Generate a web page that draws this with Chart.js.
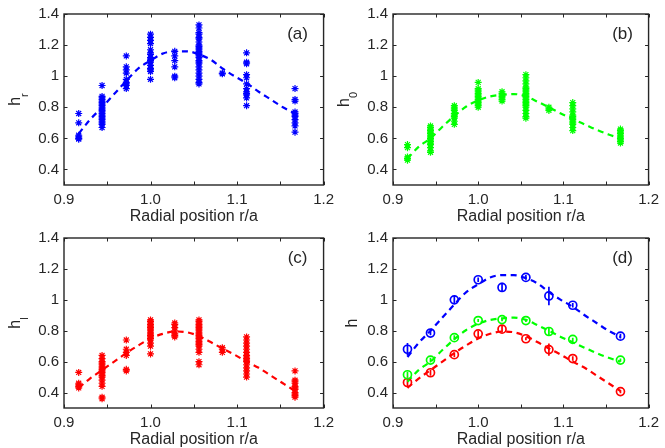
<!DOCTYPE html>
<html>
<head>
<meta charset="utf-8">
<script src="https://cdn.jsdelivr.net/npm/chart.js@4.4.1/dist/chart.umd.min.js"></script>
<style>
  html, body { margin: 0; padding: 0; background: #fff; }
  body { position: relative; width: 665px; height: 448px; overflow: hidden; }
  canvas { position: absolute; }
</style>
</head>
<body>
<canvas id="pa" width="340" height="232" style="left:0;top:0"></canvas>
<canvas id="pb" width="336" height="232" style="left:329px;top:0"></canvas>
<canvas id="pc" width="340" height="232" style="left:0;top:224px"></canvas>
<canvas id="pd" width="336" height="232" style="left:329px;top:224px"></canvas>
<script>
// Radial positions of the measurement channels (r/a)
const radii = [0.917, 0.944, 0.972, 1.000, 1.028, 1.056, 1.083, 1.111, 1.167];

// Individual samples per radial position
const hrSamples = [
  [0.76, 0.70, 0.62, 0.61, 0.60, 0.595],
  [0.94, 0.87, 0.86, 0.85, 0.84, 0.83, 0.82, 0.81, 0.80, 0.79, 0.78, 0.77, 0.76, 0.75, 0.74, 0.73, 0.72, 0.71, 0.70, 0.69, 0.67],
  [1.13, 1.06, 1.04, 1.02, 0.98, 0.96, 0.95, 0.94, 0.92],
  [1.27, 1.25, 1.23, 1.21, 1.17, 1.15, 1.14, 1.12, 1.11, 1.10, 1.09, 1.07, 1.05, 1.04, 1.03, 0.98],
  [1.16, 1.13, 1.10, 1.06, 1.00, 0.99],
  [1.33, 1.31, 1.28, 1.27, 1.25, 1.24, 1.22, 1.20, 1.19, 1.18, 1.17, 1.16, 1.15, 1.14, 1.13, 1.12, 1.10, 1.09, 1.08, 1.06, 1.04, 1.02, 1.00, 0.98, 0.96, 0.95],
  [1.02, 1.015],
  [1.15, 1.09, 1.08, 1.01, 0.99, 0.95, 0.92, 0.90, 0.89, 0.88, 0.86, 0.81],
  [0.92, 0.85, 0.84, 0.77, 0.76, 0.75, 0.74, 0.72, 0.70, 0.68, 0.64]
];
const h0Samples = [
  [0.56, 0.54, 0.48, 0.47, 0.46],
  [0.68, 0.67, 0.66, 0.65, 0.64, 0.63, 0.62, 0.61, 0.60, 0.59, 0.58, 0.57, 0.56, 0.54, 0.52, 0.51],
  [0.81, 0.80, 0.79, 0.78, 0.76, 0.75, 0.74, 0.73, 0.71, 0.69],
  [0.96, 0.92, 0.91, 0.90, 0.89, 0.88, 0.87, 0.86, 0.85, 0.84, 0.83, 0.82, 0.81, 0.80],
  [0.90, 0.89, 0.88, 0.87, 0.86, 0.85, 0.84],
  [1.01, 0.99, 0.97, 0.95, 0.93, 0.92, 0.91, 0.90, 0.89, 0.88, 0.87, 0.86, 0.85, 0.84, 0.83, 0.82, 0.81, 0.80, 0.78, 0.76, 0.74, 0.73],
  [0.80, 0.79, 0.78],
  [0.83, 0.81, 0.79, 0.77, 0.75, 0.74, 0.73, 0.72, 0.71, 0.70, 0.69, 0.67, 0.65],
  [0.66, 0.65, 0.64, 0.63, 0.62, 0.61, 0.60, 0.59, 0.58, 0.57]
];
const hlSamples = [
  [0.53, 0.46, 0.45, 0.44, 0.43],
  [0.64, 0.62, 0.60, 0.59, 0.58, 0.57, 0.56, 0.55, 0.54, 0.53, 0.52, 0.51, 0.50, 0.48, 0.46, 0.44, 0.37, 0.36],
  [0.74, 0.68, 0.66, 0.64, 0.55, 0.54],
  [0.87, 0.86, 0.85, 0.84, 0.83, 0.82, 0.81, 0.80, 0.79, 0.78, 0.77, 0.76, 0.75, 0.74, 0.72, 0.70, 0.65],
  [0.85, 0.84, 0.82, 0.80, 0.78, 0.77, 0.76],
  [0.87, 0.86, 0.85, 0.84, 0.83, 0.82, 0.81, 0.80, 0.79, 0.78, 0.77, 0.76, 0.75, 0.74, 0.73, 0.72, 0.71, 0.70, 0.68, 0.66, 0.60, 0.58],
  [0.69, 0.68, 0.66],
  [0.76, 0.74, 0.72, 0.70, 0.68, 0.66, 0.64, 0.63, 0.62, 0.61, 0.60, 0.58, 0.56, 0.54, 0.52, 0.50],
  [0.54, 0.48, 0.47, 0.46, 0.44, 0.43, 0.42, 0.40, 0.39, 0.38, 0.37]
];

// Averages and their uncertainties per radial position
const hrMean = [0.68, 0.785, 1.00, 1.13, 1.08, 1.145, 1.025, 0.965, 0.765];
const hrErr  = [0.04, 0.015, 0.025, 0.015, 0.03, 0.015, 0.06, 0.015, 0.015];
const h0Mean = [0.515, 0.61, 0.755, 0.866, 0.872, 0.866, 0.795, 0.744, 0.61];
const h0Err  = [0.02, 0.015, 0.015, 0.01, 0.01, 0.01, 0.025, 0.01, 0.01];
const hlMean = [0.465, 0.528, 0.645, 0.78, 0.81, 0.748, 0.678, 0.62, 0.406];
const hlErr  = [0.03, 0.02, 0.015, 0.02, 0.02, 0.01, 0.04, 0.015, 0.01];

// Fitted profiles
const fitR  = [0.917, 0.930, 0.944, 0.958, 0.972, 0.986, 1.000, 1.014, 1.028, 1.042, 1.056, 1.070, 1.083, 1.097, 1.111, 1.125, 1.139, 1.153, 1.167];
const hrFit = [0.63, 0.72, 0.80, 0.885, 0.97, 1.05, 1.10, 1.145, 1.16, 1.16, 1.14, 1.105, 1.05, 1.00, 0.955, 0.90, 0.85, 0.80, 0.76];
const h0Fit = [0.47, 0.545, 0.60, 0.675, 0.745, 0.805, 0.845, 0.87, 0.88, 0.885, 0.87, 0.835, 0.80, 0.76, 0.725, 0.69, 0.655, 0.625, 0.60];
const hlFit = [0.43, 0.49, 0.545, 0.60, 0.655, 0.705, 0.75, 0.78, 0.795, 0.79, 0.765, 0.725, 0.685, 0.645, 0.60, 0.56, 0.51, 0.46, 0.41];

// Axis ticks
const xTicks = [0.9, 1.0, 1.1, 1.2];
const xTickLabels = ['0.9', '1.0', '1.1', '1.2'];
const xMinorTicks = [0.95, 1.05, 1.15];
const yTicks = [0.4, 0.6, 0.8, 1.0, 1.2, 1.4];
const yTickLabels = ['0.4', '0.6', '0.8', '1', '1.2', '1.4'];

const FONT = "'Liberation Sans', Arial, Helvetica, sans-serif";
const INK = '#262626';
const BLUE = '#0000ff', GREEN = '#00ff00', RED = '#ff0000';

function samplePoints(samples) {
  const pts = [];
  samples.forEach((col, i) => col.forEach(v => pts.push({ x: radii[i], y: v })));
  return pts;
}
function pairs(xs, ys) { return xs.map((x, i) => ({ x, y: ys[i] })); }

function starSet(samples, color) {
  return { data: samplePoints(samples), showLine: false, pointStyle: 'star', pointRadius: 3.5,
           borderColor: color, backgroundColor: color, pointBorderWidth: 1.2, order: 2 };
}
function fitSet(ys, color) {
  return { data: pairs(fitR, ys), showLine: true, pointRadius: 0, borderColor: color, borderWidth: 2.2,
           borderDash: [6, 4.5], cubicInterpolationMode: 'monotone', fill: false, order: 1 };
}
function meanSet(ys, color) {
  return { data: pairs(radii, ys), showLine: false, pointStyle: 'circle', pointRadius: 4,
           borderColor: color, backgroundColor: 'rgba(0,0,0,0)', pointBorderWidth: 1.7, order: 0 };
}

// Frame, inward tick marks, y label with subscript, panel letter and error bars
const decorPlugin = {
  id: 'decor',
  beforeDatasetsDraw(chart, args, opts) {
    if (!opts.errorBars) return;
    const ctx = chart.ctx, xs = chart.scales.x, ys = chart.scales.y;
    ctx.save();
    opts.errorBars.forEach(eb => {
      ctx.strokeStyle = eb.color;
      ctx.lineWidth = 1.7;
      ctx.beginPath();
      radii.forEach((r, i) => {
        const px = xs.getPixelForValue(r);
        ctx.moveTo(px, ys.getPixelForValue(eb.mean[i] - eb.err[i]));
        ctx.lineTo(px, ys.getPixelForValue(eb.mean[i] + eb.err[i]));
      });
      ctx.stroke();
    });
    ctx.restore();
  },
  afterDraw(chart, args, opts) {
    const ctx = chart.ctx, a = chart.chartArea, xs = chart.scales.x, ys = chart.scales.y;
    ctx.save();
    // tick marks
    ctx.strokeStyle = INK;
    ctx.lineWidth = 1;
    ctx.beginPath();
    const tl = 3.5;
    xTicks.concat(xMinorTicks).forEach(v => {
      const px = Math.round(xs.getPixelForValue(v)) + 0.5;
      ctx.moveTo(px, a.bottom); ctx.lineTo(px, a.bottom - tl);
      ctx.moveTo(px, a.top); ctx.lineTo(px, a.top + tl);
    });
    yTicks.forEach(v => {
      const py = Math.round(ys.getPixelForValue(v)) + 0.5;
      ctx.moveTo(a.left, py); ctx.lineTo(a.left + tl, py);
      ctx.moveTo(a.right, py); ctx.lineTo(a.right - tl, py);
    });
    ctx.stroke();
    // frame
    ctx.lineWidth = 1.4;
    ctx.strokeRect(a.left, a.top, a.right - a.left, a.bottom - a.top);
    // y label
    ctx.fillStyle = INK;
    const yc = (a.top + a.bottom) / 2;
    ctx.font = '16px ' + FONT;
    const wMain = ctx.measureText(opts.yMain).width;
    ctx.font = '11px ' + FONT;
    const wSub = opts.ySub ? ctx.measureText(opts.ySub).width : 0;
    const total = wMain + wSub;
    ctx.translate(opts.ySub ? 20 : 28, yc);
    ctx.rotate(-Math.PI / 2);
    ctx.textAlign = 'left';
    ctx.textBaseline = 'alphabetic';
    ctx.font = '16px ' + FONT;
    ctx.fillText(opts.yMain, -total / 2, 0);
    if (opts.ySub) {
      ctx.font = '11px ' + FONT;
      ctx.fillText(opts.ySub, -total / 2 + wMain, 8);
    }
    ctx.restore();
    // panel letter
    ctx.save();
    ctx.fillStyle = INK;
    ctx.font = '17px ' + FONT;
    ctx.textAlign = 'center';
    ctx.textBaseline = 'middle';
    ctx.fillText(opts.tag, a.right - 26, a.top + 20);
    ctx.restore();
  }
};

function makePanel(spec) {
  const canvas = document.getElementById(spec.id);
  const H = canvas.height;
  new Chart(canvas, {
    type: 'scatter',
    data: { datasets: spec.datasets },
    options: {
      responsive: false,
      animation: false,
      devicePixelRatio: 1,
      events: [],
      layout: { padding: { left: 0, top: 13, right: canvas.width - 324, bottom: 0 } },
      plugins: {
        legend: { display: false },
        tooltip: { enabled: false },
        decor: { tag: spec.tag, yMain: spec.yMain, ySub: spec.ySub, errorBars: spec.errorBars }
      },
      scales: {
        x: {
          type: 'linear', min: 0.9, max: 1.2,
          afterBuildTicks: s => { s.ticks = xTicks.map(v => ({ value: v })); },
          afterFit: s => { s.height = H - spec.bottom; },
          grid: { display: false, drawTicks: false },
          border: { display: false },
          ticks: { padding: 6, color: INK, font: { family: FONT, size: 15 }, maxRotation: 0, autoSkip: false,
                   callback: (v, i) => xTickLabels[i] },
          title: { display: true, text: 'Radial position r/a', color: INK,
                   font: { family: FONT, size: 16 }, padding: { top: 0, bottom: spec.titlePad } }
        },
        y: {
          type: 'linear', min: 0.3, max: 1.4,
          afterBuildTicks: s => { s.ticks = yTicks.map(v => ({ value: v })); },
          afterFit: s => { s.width = 64; },
          grid: { display: false, drawTicks: false },
          border: { display: false },
          ticks: { padding: 5, color: INK, font: { family: FONT, size: 15 }, autoSkip: false,
                   callback: (v, i) => yTickLabels[i] }
        }
      }
    },
    plugins: [decorPlugin]
  });
}

makePanel({ id: 'pa', tag: '(a)', yMain: 'h', ySub: 'r', bottom: 185, titlePad: 5.7,
  datasets: [fitSet(hrFit, BLUE), starSet(hrSamples, BLUE)] });
makePanel({ id: 'pb', tag: '(b)', yMain: 'h', ySub: '0', bottom: 185, titlePad: 5.7,
  datasets: [fitSet(h0Fit, GREEN), starSet(h0Samples, GREEN)] });
makePanel({ id: 'pc', tag: '(c)', yMain: 'h', ySub: 'l', bottom: 184, titlePad: 6.7,
  datasets: [fitSet(hlFit, RED), starSet(hlSamples, RED)] });
makePanel({ id: 'pd', tag: '(d)', yMain: 'h', ySub: '', bottom: 184, titlePad: 6.7,
  errorBars: [
    { mean: hrMean, err: hrErr, color: BLUE },
    { mean: h0Mean, err: h0Err, color: GREEN },
    { mean: hlMean, err: hlErr, color: RED }
  ],
  datasets: [
    meanSet(hrMean, BLUE), meanSet(h0Mean, GREEN), meanSet(hlMean, RED),
    fitSet(hrFit, BLUE), fitSet(h0Fit, GREEN), fitSet(hlFit, RED)
  ] });
</script>
</body>
</html>
